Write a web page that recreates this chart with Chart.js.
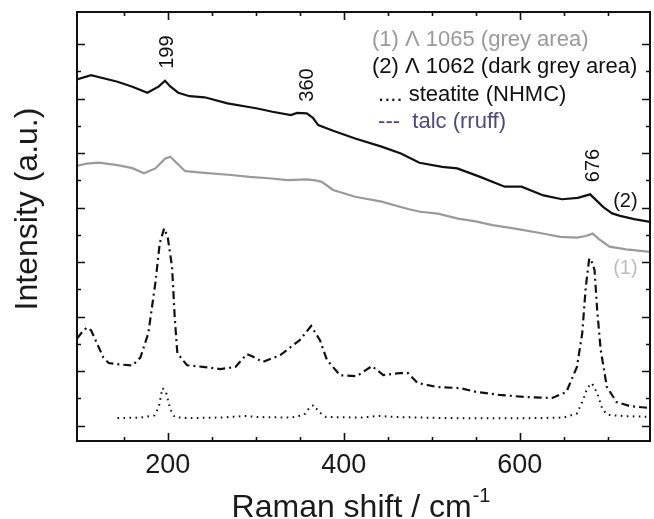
<!DOCTYPE html>
<html>
<head>
<meta charset="utf-8">
<script src="https://cdn.jsdelivr.net/npm/chart.js@4/dist/chart.umd.min.js"></script>
<style>
  html, body { margin: 0; padding: 0; background: #fff; }
  #wrap { width: 654px; height: 519px; }
</style>
</head>
<body>
<div id="wrap"><canvas id="raman" width="654" height="519"></canvas></div>
<script>
// === DATOS ===
// (2) Λ 1062 - dark grey area, black solid line
const blackShift = [97, 113, 143, 160, 177, 190, 197, 203, 212, 225, 242, 268, 302, 319, 340, 347, 358, 365, 371, 388, 413, 443, 465, 486, 512, 529, 555, 583, 602, 627, 648, 666, 680, 695, 705, 714, 730, 748];
const blackInt = [12.71, 12.86, 12.62, 12.44, 12.22, 12.45, 12.66, 12.45, 12.22, 12.09, 12.05, 11.83, 11.64, 11.52, 11.40, 11.48, 11.46, 11.30, 11.03, 10.82, 10.54, 10.24, 9.99, 9.65, 9.50, 9.44, 9.13, 8.77, 8.77, 8.45, 8.31, 8.36, 8.49, 8.02, 7.79, 7.70, 7.58, 7.48];

// (1) Λ 1065 - grey area, grey solid line
const greyShift = [97, 108, 122, 143, 160, 173, 186, 197, 203, 210, 220, 242, 272, 293, 315, 336, 358, 368, 375, 388, 413, 443, 473, 487, 507, 530, 550, 569, 593, 623, 646, 665, 675, 683, 690, 702, 721, 748];
const greyInt = [9.53, 9.62, 9.65, 9.56, 9.45, 9.26, 9.44, 9.80, 9.87, 9.65, 9.34, 9.28, 9.20, 9.13, 9.08, 9.01, 9.04, 9.00, 8.95, 8.65, 8.40, 8.22, 7.95, 7.85, 7.78, 7.60, 7.50, 7.36, 7.24, 7.07, 6.93, 6.90, 6.96, 7.05, 6.85, 6.57, 6.47, 6.38];

// talc (rruff) - dash-dot
const talcShift = [97, 102, 108, 113, 120, 127, 133, 145, 160, 169, 178, 186, 191, 196, 200, 205, 208, 211, 222, 240, 260, 277, 290, 296, 308, 328, 350, 363, 373, 381, 396, 415, 432, 445, 464, 473, 484, 506, 532, 551, 577, 608, 637, 653, 665, 671, 675, 679, 682, 685, 688, 692, 699, 710, 725, 748];
const talcInt = [3.2, 3.4, 3.6, 3.5, 3.0, 2.5, 2.3, 2.25, 2.21, 2.5, 3.39, 5.23, 6.69, 7.24, 6.93, 5.83, 3.99, 2.66, 2.22, 2.16, 2.08, 2.16, 2.63, 2.55, 2.34, 2.59, 3.14, 3.66, 3.14, 2.41, 1.85, 1.82, 2.19, 1.86, 1.93, 1.93, 1.57, 1.42, 1.38, 1.24, 1.13, 1.05, 1.02, 1.24, 2.16, 3.39, 5.08, 6.14, 6.0, 5.71, 4.24, 2.78, 1.42, 0.87, 0.72, 0.65];

// steatite (NHMC) - dotted
const steatShift = [143, 170, 185, 190, 194, 198, 203, 208, 220, 260, 290, 300, 340, 355, 362, 366, 372, 380, 420, 440, 460, 520, 600, 650, 665, 672, 677, 682, 688, 694, 700, 720, 748];
const steatInt = [0.28, 0.3, 0.38, 0.7, 1.38, 1.25, 0.6, 0.32, 0.28, 0.3, 0.36, 0.32, 0.3, 0.4, 0.7, 0.76, 0.5, 0.32, 0.3, 0.36, 0.32, 0.28, 0.27, 0.3, 0.45, 0.95, 1.4, 1.56, 1.2, 0.6, 0.4, 0.35, 0.33];

// ejes
const xTicks = [150, 200, 250, 300, 350, 400, 450, 500, 550, 600, 650, 700];
const xLabels = [200, 400, 600];
const yTicks = [0, 1, 2, 3, 4, 5, 6, 7, 8, 9, 10, 11, 12, 13, 14];

// textos
const legendLines = [
  { text: "(1) \u039B 1065 (grey area)", color: "#9a9a9a" },
  { text: "(2) \u039B 1062 (dark grey area)", color: "#111111" },
  { text: " .... steatite (NHMC)", color: "#111111" },
  { text: " ---  talc (rruff)", color: "#4b4a7d" },
];
const peakLabels = [
  { text: "199", x: 199, y: 13.71, rotate: true, color: "#111" },
  { text: "360", x: 358, y: 12.5, rotate: true, color: "#111" },
  { text: "676", x: 683, y: 9.55, rotate: true, color: "#111" },
  { text: "(2)", x: 720, y: 8.28, rotate: false, color: "#111" },
  { text: "(1)", x: 720, y: 5.79, rotate: false, color: "#bdbdbd" },
];

const FONT = "'Liberation Sans', Arial, Helvetica, sans-serif";

function toPoints(xs, ys) {
  return xs.map((x, i) => ({ x: x, y: ys[i] }));
}

// === PLUGIN: marco, ticks interiores y textos ===
const decorPlugin = {
  id: "decor",
  afterDraw(chart) {
    const ctx = chart.ctx;
    const area = chart.chartArea;
    const xs = chart.scales.x;
    const ys = chart.scales.y;
    ctx.save();

    // marco
    ctx.strokeStyle = "#111";
    ctx.lineWidth = 2;
    ctx.strokeRect(area.left, area.top, area.right - area.left, area.bottom - area.top);

    // ticks hacia dentro
    ctx.lineWidth = 1.6;
    ctx.beginPath();
    xTicks.forEach(v => {
      const px = Math.round(xs.getPixelForValue(v)) + 0.5;
      const len = v % 200 === 0 ? 8 : 4;
      ctx.moveTo(px, area.bottom); ctx.lineTo(px, area.bottom - len);
      ctx.moveTo(px, area.top); ctx.lineTo(px, area.top + len);
    });
    yTicks.forEach(v => {
      const py = Math.round(ys.getPixelForValue(v)) + 0.5;
      const len = v % 2 === 0 ? 8 : 4;
      ctx.moveTo(area.left, py); ctx.lineTo(area.left + len, py);
      ctx.moveTo(area.right, py); ctx.lineTo(area.right - len, py);
    });
    ctx.stroke();

    // etiquetas de picos
    ctx.font = "20px " + FONT;
    ctx.textBaseline = "middle";
    ctx.textAlign = "center";
    peakLabels.forEach(l => {
      const px = xs.getPixelForValue(l.x);
      const py = ys.getPixelForValue(l.y);
      ctx.fillStyle = l.color;
      ctx.save();
      ctx.translate(px, py);
      if (l.rotate) ctx.rotate(-Math.PI / 2);
      ctx.fillText(l.text, 0, 1);
      ctx.restore();
    });

    // leyenda (texto)
    ctx.font = "22px " + FONT;
    ctx.textAlign = "left";
    ctx.textBaseline = "middle";
    legendLines.forEach((l, i) => {
      ctx.fillStyle = l.color;
      ctx.fillText(l.text, 372, 40 + i * 27.3);
    });

    // título eje Y
    ctx.fillStyle = "#1a1a1a";
    ctx.font = "32px " + FONT;
    ctx.textAlign = "center";
    ctx.save();
    ctx.translate(28, 209);
    ctx.rotate(-Math.PI / 2);
    ctx.fillText("Intensity (a.u.)", 0, 0);
    ctx.restore();

    // título eje X con superíndice
    ctx.textBaseline = "alphabetic";
    ctx.textAlign = "left";
    ctx.font = "32px " + FONT;
    const main = "Raman shift / cm";
    const wMain = ctx.measureText(main).width;
    ctx.font = "20px " + FONT;
    const sup = "-1";
    const wSup = ctx.measureText(sup).width;
    const cx = (area.left + area.right) / 2 - 3;
    const x0 = cx - (wMain + wSup) / 2;
    ctx.font = "32px " + FONT;
    ctx.fillText(main, x0, 517);
    ctx.font = "20px " + FONT;
    ctx.fillText(sup, x0 + wMain + 1, 502);

    ctx.restore();
  },
};

// === GRÁFICO ===
const ramanChart = new Chart(document.getElementById("raman"), {
  type: "line",
  data: {
    datasets: [
      {
        label: "steatite (NHMC)",
        data: toPoints(steatShift, steatInt),
        borderColor: "#111",
        borderWidth: 2,
        borderDash: [1.6, 4.4],
        pointRadius: 0,
        tension: 0,
      },
      {
        label: "talc (rruff)",
        data: toPoints(talcShift, talcInt),
        borderColor: "#111",
        borderWidth: 2.2,
        borderDash: [8, 4, 2, 4],
        pointRadius: 0,
        tension: 0,
      },
      {
        label: "(1) \u039B 1065",
        data: toPoints(greyShift, greyInt),
        borderColor: "#9a9a9a",
        borderWidth: 2.2,
        pointRadius: 0,
        tension: 0,
      },
      {
        label: "(2) \u039B 1062",
        data: toPoints(blackShift, blackInt),
        borderColor: "#111",
        borderWidth: 2.2,
        pointRadius: 0,
        tension: 0,
      },
    ],
  },
  options: {
    responsive: false,
    animation: false,
    devicePixelRatio: 1,
    layout: { padding: { top: 12, right: 4, left: 0, bottom: 0 } },
    plugins: { legend: { display: false }, tooltip: { enabled: false } },
    scales: {
      x: {
        type: "linear",
        min: 97,
        max: 748,
        grid: { display: false, drawTicks: false },
        border: { display: false },
        afterBuildTicks: s => { s.ticks = xTicks.map(v => ({ value: v })); },
        afterFit: s => { s.height = 78; },
        ticks: {
          autoSkip: false,
          maxRotation: 0,
          padding: 8,
          color: "#1a1a1a",
          font: { family: FONT, size: 27 },
          callback: v => (xLabels.includes(v) ? String(v) : ""),
        },
      },
      y: {
        type: "linear",
        min: -0.56,
        max: 15.18,
        grid: { display: false, drawTicks: false },
        border: { display: false },
        afterBuildTicks: s => { s.ticks = yTicks.map(v => ({ value: v })); },
        afterFit: s => { s.width = 77; },
        ticks: { display: false },
      },
    },
  },
  plugins: [decorPlugin],
});
</script>
</body>
</html>
